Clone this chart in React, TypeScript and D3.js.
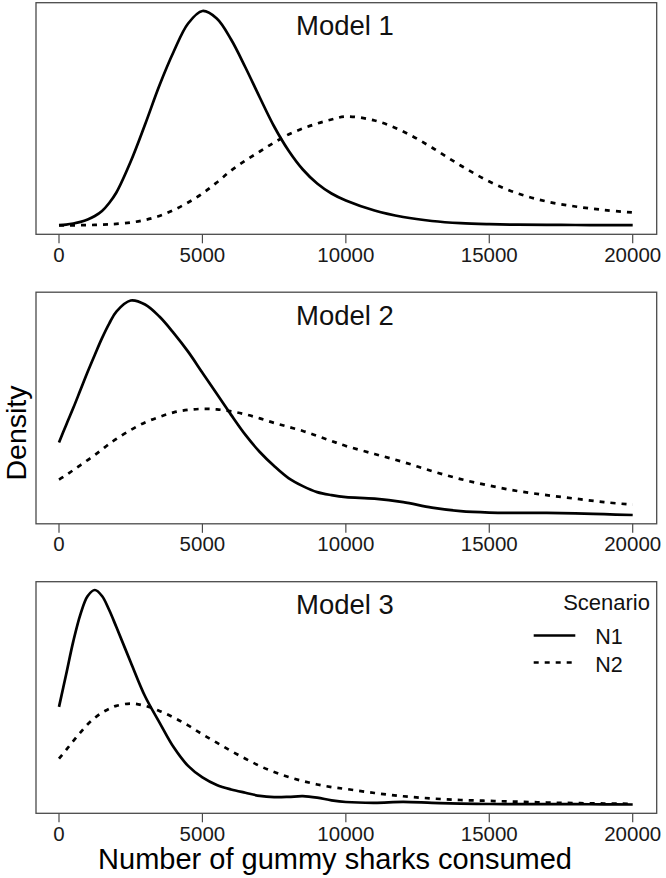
import React from 'react';
import * as d3 from 'd3';

// x grid (number of gummy sharks consumed)
const consumed = [
  0, 250, 500, 750, 1000, 1250, 1500, 1750, 2000,
  2500, 3000, 3500, 4000, 4500, 5000, 5500, 6000, 6500, 7000, 7500, 8000, 8500, 9000, 9500, 10000,
  11000, 12000, 13000, 14000, 15000, 16000, 17000, 18000, 19000, 20000,
];

// densities (scaled, x 1e-6)
const model1N1 = [
  0.3, 0.9, 2, 3.6, 6, 9.5, 14.5, 22.5, 33,
  64, 101, 140, 174, 202, 214.5, 207, 186, 158, 128, 99, 75, 56, 42, 32, 25,
  15, 8.5, 4.5, 2.3, 1.3, 0.8, 0.6, 0.5, 0.4, 0.3,
];
const model1N2 = [
  0, 0.1, 0.2, 0.3, 0.4, 0.6, 0.9, 1.2, 1.6,
  3, 5.5, 9.5, 15.5, 23, 32, 43, 55, 65, 74, 83, 91, 97, 102, 106, 109,
  105, 94, 78, 60, 44, 32, 24, 19, 15.5, 13,
];
const model2N1 = [
  72.5, 90, 107, 125, 143, 160, 176.5, 191, 203,
  214, 210, 198, 181.5, 163, 142, 121, 100, 80, 63, 49, 37, 29, 23, 20, 18,
  16.5, 13, 7.5, 4, 2.6, 2.3, 2.3, 1.9, 1, 0.2,
];
const model2N2 = [
  35.5, 40, 45, 50, 55, 60, 65.5, 71, 76,
  85, 92.5, 98, 102.5, 105, 106, 105.5, 103.5, 100.5, 96.5, 92, 88, 84, 79, 74, 69,
  61, 53, 44, 36, 29.5, 24, 20, 16.5, 13, 10.5,
];
const model3N1 = [
  97.4, 130, 163, 190, 208, 214, 208, 194, 177,
  142, 108, 82, 57, 38.5, 27, 19.5, 15, 11.7, 8.6, 7.4, 7.6, 8.3, 6.8, 4.2, 2.5,
  1.7, 2.6, 1.6, 0.8, 0.5, 0.4, 0.4, 0.3, 0.2, 0,
];
const model3N2 = [
  45.7, 54.5, 63.4, 72, 80, 86.5, 91.7, 95.5, 98.4,
  100.7, 98.4, 93.4, 86.7, 79, 70, 61.7, 53.4, 45.7, 38.4, 32.4, 27.4, 23.4, 20, 17.4, 15.5,
  11.5, 8.2, 6, 4.5, 3.6, 2.8, 2, 1.4, 1, 0.7,
];

const modelNames = ['Model 1', 'Model 2', 'Model 3'];
const scenarios = ['N1', 'N2'];
const xTicks = [0, 5000, 10000, 15000, 20000];
const legendTitle = 'Scenario';
const xTitle = 'Number of gummy sharks consumed';
const yTitle = 'Density';

export default function App() {
  const W = 666;
  const H = 878;
  const boxL = 36;
  const boxR = 656.7;
  const panelH = 231.6;
  const font = '"Liberation Sans", Arial, Helvetica, sans-serif';
  const series = [
    [model1N1, model1N2],
    [model2N1, model2N2],
    [model3N1, model3N2],
  ];
  const x = d3.scaleLinear().domain([0, 20000]).range([59, 632.7]);
  const dashes = ['none', '5 6'];

  return (
    <svg width={W} height={H} style={{ position: 'absolute', left: 0, top: 0, display: 'block', background: '#fff' }}>
      {series.map((pair, i) => {
        const top = 2.7 + i * 289.5;
        const bottom = top + panelH;
        const maxV = d3.max(pair.flat()) as number;
        const minV = d3.min(pair.flat()) as number;
        const y = d3.scaleLinear().domain([minV, maxV]).range([bottom - 8.8, top + 8.3]);
        const line = d3
          .line<number>()
          .x((_, k) => x(consumed[k]))
          .y((d) => y(d))
          .curve(d3.curveCatmullRom.alpha(0.5));
        return (
          <g key={i}>
            {pair.map((vals, s) => (
              <path
                key={s}
                d={line(vals) || ''}
                fill="none"
                stroke="#000"
                strokeWidth={2.7}
                strokeDasharray={dashes[s]}
                strokeLinejoin="round"
              />
            ))}
            <rect x={boxL} y={top} width={boxR - boxL} height={panelH} fill="none" stroke="#4a4a4a" strokeWidth={1.3} />
            {xTicks.map((t) => (
              <g key={t}>
                <line x1={x(t)} x2={x(t)} y1={bottom} y2={bottom + 9} stroke="#4a4a4a" strokeWidth={1.2} />
                <text x={x(t)} y={bottom + 27.4} textAnchor="middle" fontFamily={font} fontSize={20.5} fill="#1a1a1a">
                  {t}
                </text>
              </g>
            ))}
            <text x={345} y={top + 32.3} textAnchor="middle" fontFamily={font} fontSize={27.5} fill="#111">
              {modelNames[i]}
            </text>
            {i === 2 && (
              <g>
                <text x={650} y={609.7} textAnchor="end" fontFamily={font} fontSize={22} fill="#111">
                  {legendTitle}
                </text>
                {scenarios.map((s, k) => (
                  <g key={s}>
                    <line
                      x1={533.7}
                      x2={575.3}
                      y1={635.5 + k * 27}
                      y2={635.5 + k * 27}
                      stroke="#000"
                      strokeWidth={2.7}
                      strokeDasharray={dashes[k]}
                    />
                    <text x={595.3} y={644 + k * 28} fontFamily={font} fontSize={21.5} fill="#111">
                      {s}
                    </text>
                  </g>
                ))}
              </g>
            )}
          </g>
        );
      })}
      <text x={335} y={869} textAnchor="middle" fontFamily={font} fontSize={29} fill="#000">
        {xTitle}
      </text>
      <text
        transform="translate(25.5,433) rotate(-90)"
        textAnchor="middle"
        fontFamily={font}
        fontSize={28.5}
        fill="#000"
      >
        {yTitle}
      </text>
    </svg>
  );
}
